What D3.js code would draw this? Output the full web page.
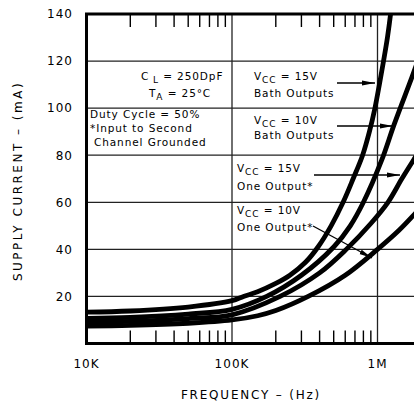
<!DOCTYPE html>
<html>
<head>
<meta charset="utf-8">
<script src="https://cdn.jsdelivr.net/npm/d3@7"></script>
<style>
  body { margin: 0; background: #fff; }
  svg { display: block; }
  .tick-label { font-family: "DejaVu Sans", sans-serif; font-size: 12px; letter-spacing: 1px; fill: #000; }
  .title { font-family: "DejaVu Sans", sans-serif; font-size: 12px; letter-spacing: 1.8px; fill: #000; }
  .note { font-family: "DejaVu Sans", sans-serif; font-size: 10.5px; letter-spacing: 0.9px; fill: #000; }
</style>
</head>
<body>
<div id="canvas"></div>
<script>
// frequency (Hz) vs supply current (mA)
var vcc15Both = [[1e4,13.3],[2e4,13.8],[5e4,15.5],[1e5,18.2],[1.2e5,20],[1.5e5,22],[2e5,25.5],[2.5e5,29],[3.2e5,34.5],[3.9e5,41],[4.8e5,50],[5.8e5,60],[6.8e5,70],[7.9e5,80],[8.8e5,90],[9.6e5,100],[1.03e6,110],[1.1e6,120],[1.17e6,130],[1.23e6,140],[1.28e6,150]];
var vcc10Both = [[1e4,10.7],[2e4,11.1],[5e4,12.5],[1e5,14.5],[1.73e5,20],[3e5,29],[5e5,41],[6.5e5,50],[8e5,60],[1.07e6,78],[1.3e6,93],[1.72e6,113],[2e6,124]];
var vcc15One  = [[1e4,9],[2e4,9.4],[5e4,10.6],[1e5,12.2],[2.14e5,20],[4e5,30],[6.1e5,40],[9e5,51],[1.18e6,60],[1.47e6,70],[1.77e6,78],[2e6,83]];
var vcc10One  = [[1e4,7.4],[2e4,7.7],[5e4,8.6],[1e5,10],[1.5e5,11.8],[2e5,14],[3.34e5,20],[6e5,29],[1e6,40],[1.4e6,48],[1.8e6,55],[2e6,58]];

var xTicks = [1e4, 1e5, 1e6];
var xTickLabels = ['10K', '100K', '1M'];
var yTicks = [20, 40, 60, 80, 100, 120, 140];

var W = 414, H = 406;
var m = {t:14, l:86.5, b:343.5};
var decade = 145.5;

var svg = d3.select('#canvas').append('svg')
    .attr('width', W).attr('height', H);

var x = d3.scaleLog().domain([1e4, 2e6]).range([m.l, m.l + decade*Math.log10(200)]);
var y = d3.scaleLinear().domain([0, 140]).range([m.b, m.t]);

svg.append('defs').append('clipPath').attr('id','plotclip')
  .append('rect').attr('x', m.l).attr('y', m.t).attr('width', W - m.l).attr('height', m.b - m.t);

svg.append('defs').append('marker').attr('id','arrow')
    .attr('viewBox','0 0 13 6').attr('refX',13).attr('refY',3)
    .attr('markerWidth',13).attr('markerHeight',6).attr('markerUnits','userSpaceOnUse')
    .attr('orient','auto')
  .append('path').attr('d','M0,0.6 L13,3 L0,5.4 Z').attr('fill','#000');

// grid
svg.append('g').selectAll('line').data(yTicks.slice(0, -1)).enter().append('line')
    .attr('x1', m.l).attr('x2', W).attr('y1', d => y(d)).attr('y2', d => y(d))
    .attr('stroke','#222').attr('stroke-width',1.3);
svg.append('g').selectAll('line').data([1e5, 1e6]).enter().append('line')
    .attr('x1', d => x(d)).attr('x2', d => x(d)).attr('y1', m.t).attr('y2', m.b)
    .attr('stroke','#222').attr('stroke-width',1.3);

// minor ticks, top and bottom, inward
var minor = [];
[1e4, 1e5, 1e6].forEach(function(dec){ for (var k = 2; k <= 9; k++) minor.push(dec*k); });
minor = minor.filter(d => d <= 2e6);
var tk = svg.append('g');
tk.selectAll('.tt').data(minor).enter().append('line')
    .attr('x1', d => x(d)).attr('x2', d => x(d)).attr('y1', m.t).attr('y2', m.t + 13)
    .attr('stroke','#000').attr('stroke-width',1.4);
tk.selectAll('.tb').data(minor).enter().append('line')
    .attr('x1', d => x(d)).attr('x2', d => x(d)).attr('y1', m.b).attr('y2', m.b - 13)
    .attr('stroke','#000').attr('stroke-width',1.4);

// curves
var line = d3.line().x(d => x(d[0])).y(d => y(d[1])).curve(d3.curveCatmullRom.alpha(0.5));
svg.append('g').attr('clip-path','url(#plotclip)')
  .selectAll('path').data([vcc15Both, vcc10Both, vcc15One, vcc10One]).enter().append('path')
    .attr('d', line).attr('fill','none').attr('stroke','#000').attr('stroke-width',4.8);

// frame (left, top, bottom)
svg.append('path')
    .attr('d', 'M' + W + ',' + m.t + 'H' + m.l + 'V' + m.b + 'H' + W)
    .attr('fill','none').attr('stroke','#000').attr('stroke-width',3);

// tick labels
svg.append('g').selectAll('text').data(yTicks).enter().append('text')
    .attr('class','tick-label').attr('x', 73).attr('y', d => y(d)).attr('dy','0.36em')
    .attr('text-anchor','end').text(d => d);
svg.append('g').selectAll('text').data(xTicks).enter().append('text')
    .attr('class','tick-label').attr('x', d => x(d)).attr('y', 368)
    .attr('text-anchor','middle').text((d,i) => xTickLabels[i]);

// axis titles
svg.append('text').attr('class','title').attr('x', 251).attr('y', 399)
    .attr('text-anchor','middle').text('FREQUENCY – (Hz)');
svg.append('text').attr('class','title').style('letter-spacing','2.5px')
    .attr('transform','translate(22,181) rotate(-90)')
    .attr('text-anchor','middle').text('SUPPLY CURRENT – (mA)');

// notes
function sub(sel, parts) {
  parts.forEach(function(p){
    var t = sel.append('tspan').text(p[0]);
    if (p[1] === 'sub') t.attr('font-size','9px').attr('dy', 3);
    if (p[1] === 'back') t.attr('dy', -3);
  });
}
var notes = svg.append('g');
sub(notes.append('text').attr('class','note').attr('x',141).attr('y',80),
    [['C'],[' L','sub'],[' =  250DpF','back']]);
sub(notes.append('text').attr('class','note').attr('x',149).attr('y',97),
    [['T'],['A','sub'],[' = 25°C','back']]);
notes.append('text').attr('class','note').attr('x',90).attr('y',118).text('Duty Cycle = 50%');
notes.append('text').attr('class','note').attr('x',90).attr('y',132).text('*Input to Second');
notes.append('text').attr('class','note').attr('x',94).attr('y',146).text('Channel Grounded');

sub(notes.append('text').attr('class','note').attr('x',254).attr('y',80),
    [['V'],['CC','sub'],[' = 15V','back']]);
notes.append('text').attr('class','note').attr('x',254).attr('y',97).text('Bath Outputs');
sub(notes.append('text').attr('class','note').attr('x',254).attr('y',124),
    [['V'],['CC','sub'],[' = 10V','back']]);
notes.append('text').attr('class','note').attr('x',254).attr('y',139).text('Bath Outputs');
sub(notes.append('text').attr('class','note').attr('x',237).attr('y',172),
    [['V'],['CC','sub'],[' = 15V','back']]);
notes.append('text').attr('class','note').attr('x',237).attr('y',190).text('One Output*');
sub(notes.append('text').attr('class','note').attr('x',237).attr('y',214),
    [['V'],['CC','sub'],[' = 10V','back']]);
notes.append('text').attr('class','note').attr('x',237).attr('y',231).text('One Output*');

// leader arrows
var arrows = [[337,83,375,83],[337,126,393,126],[314,175,400,175],[313,226,372,258]];
notes.selectAll('.arr').data(arrows).enter().append('line')
    .attr('x1', d => d[0]).attr('y1', d => d[1]).attr('x2', d => d[2]).attr('y2', d => d[3])
    .attr('stroke','#000').attr('stroke-width',1.3).attr('marker-end','url(#arrow)');
</script>
</body>
</html>
